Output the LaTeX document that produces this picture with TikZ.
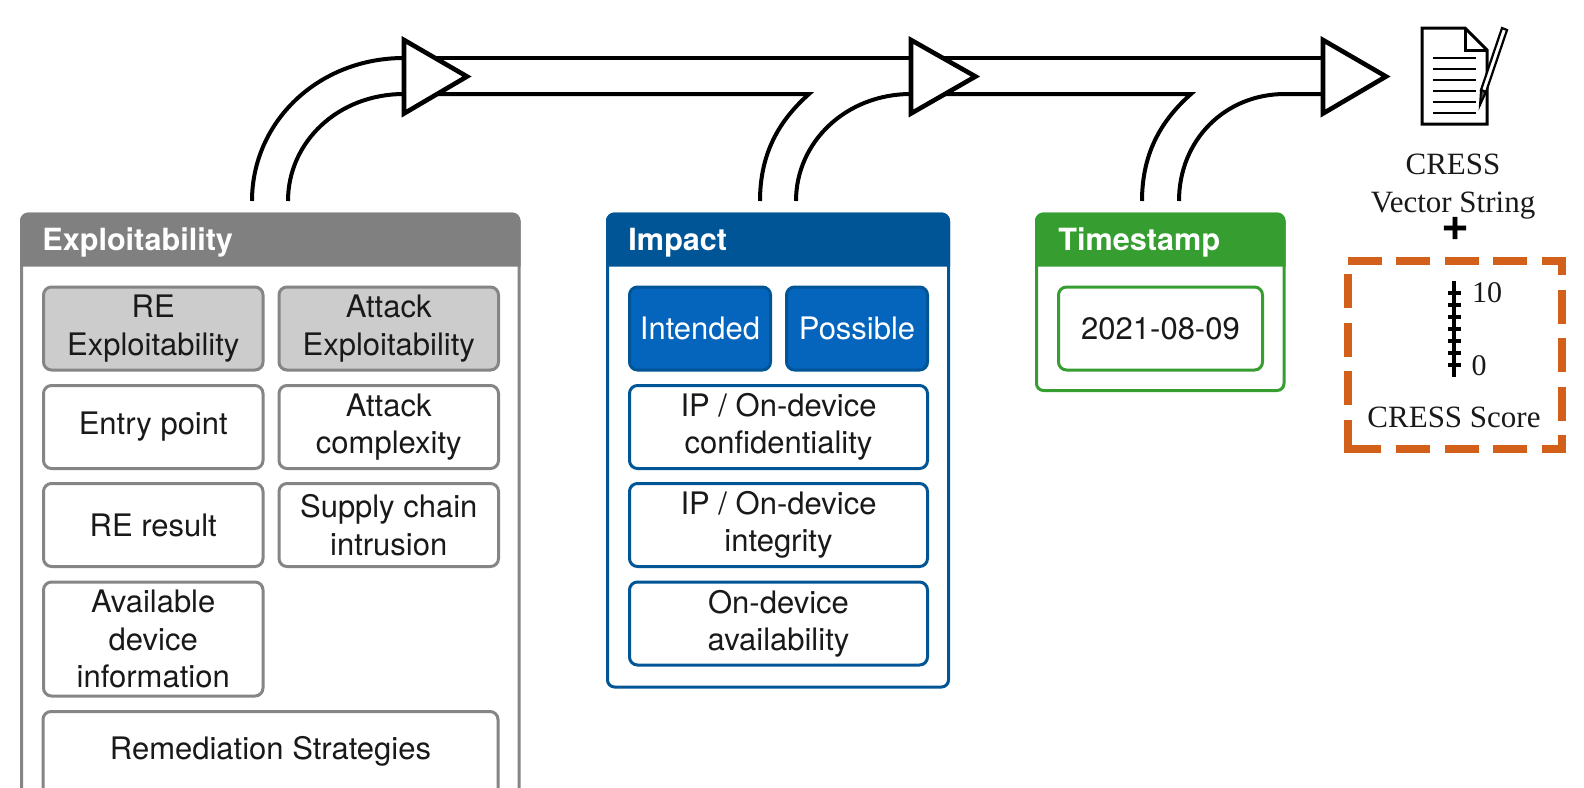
\documentclass[tikz,border=0pt]{standalone}
\usepackage{fontspec}
\setmainfont{Liberation Serif}
\setsansfont{TeX Gyre Heros}
\definecolor{greyhead}{HTML}{808080}
\definecolor{greyfill}{HTML}{CCCCCC}
\definecolor{greyline}{HTML}{858585}
\definecolor{bluehead}{HTML}{005596}
\definecolor{bluefill}{HTML}{0564BC}
\definecolor{greenhead}{HTML}{369E30}
\definecolor{orangeline}{HTML}{D2601A}
\tikzset{
  x=0.5pt,y=-0.5pt,
  panel/.style={draw=#1,line width=1.5pt,rounded corners=3.5pt,fill=white},
  head/.style={fill=#1,draw=#1,line width=1.5pt},
  headtext/.style={font=\sffamily\bfseries\fontsize{15.3}{18}\selectfont,text=white,anchor=base west,inner sep=0pt},
  cell/.style={draw=#1,line width=1.5pt,rounded corners=4pt,fill=white,font=\sffamily\fontsize{15.5}{18.7}\selectfont,align=center,text=black!90},
  pipe/.style={line width=2pt,black,line join=miter},
  tri/.style={line width=2.3pt,black,fill=white,line join=miter},
  serifl/.style={font=\rmfamily\fontsize{15.5}{19}\selectfont,text=black!90},
  orangedash/.style={orangeline,line width=4pt,dash pattern=on 17pt off 7.3pt,line join=miter},
}
\newcommand{\cellbox}[7][white]{%
  \node[cell=#2,fill=#1,minimum width=#5*0.5pt,minimum height=#6*0.5pt,inner sep=0pt,anchor=north west] (#3) at #4 {#7};}
\begin{document}
\begin{tikzpicture}
\useasboundingbox (0,0) rectangle (1584,787);
% block arrows
\coordinate (a1o) at (252,201); \coordinate (a1i) at (288,201);
\coordinate (t1) at (404,58); \coordinate (b1) at (404,94);
\coordinate (a2o) at (760,201); \coordinate (a2i) at (796,201);
\coordinate (t2) at (911,58); \coordinate (b2) at (911,94);
\coordinate (a3o) at (1142,201); \coordinate (a3i) at (1179,201);
\coordinate (t3) at (1323,58); \coordinate (b3) at (1323,94);
\draw[pipe] (a1o) .. controls (252,122) and (318,58) .. (t1);
\draw[pipe] (a1i) .. controls (288,142) and (338,94) .. (b1);
\draw[pipe] (t1) -- (t2);
\draw[pipe] (b1) -- (809,94) .. controls (782,118) and (760,150) .. (a2o);
\draw[pipe] (a2i) .. controls (796,142) and (846,94) .. (b2);
\draw[pipe] (t2) -- (t3);
\draw[pipe] (b2) -- (1191,94) .. controls (1164,118) and (1142,150) .. (a3o);
\draw[pipe] (a3i) .. controls (1179,140) and (1225,94) .. (1285,94) -- (b3);
\draw[tri] (404,40) -- (404,113.5) -- (467,76.5) -- cycle;
\draw[tri] (911,40) -- (911,113.5) -- (975.5,76.5) -- cycle;
\draw[tri] (1323,40) -- (1323,113.5) -- (1386,76.5) -- cycle;
% Exploitability
\draw[panel=greyline] (21.5,214) rectangle (519,820);
\draw[head=greyhead] (21.5,265) {[rounded corners=3.5pt] -- (21.5,214) -- (519,214)} -- (519,265) -- cycle;
\node[headtext] (exph) at (42,250) {Exploitability};
\cellbox[greyfill]{greyline}{re}{(42,285.5)}{219.5}{83}{RE\\Exploitability}
\cellbox[greyfill]{greyline}{att}{(277.5,285.5)}{219.5}{83}{Attack\\Exploitability}
\cellbox{greyline}{entry}{(42,384)}{219.5}{83}{Entry point}
\cellbox{greyline}{cplx}{(277.5,384)}{219.5}{83}{Attack\\complexity}
\cellbox{greyline}{rer}{(42,482)}{219.5}{83}{RE result}
\cellbox{greyline}{sup}{(277.5,482)}{219.5}{83}{Supply chain\\intrusion}
\cellbox{greyline}{avail}{(42,580.5)}{219.5}{114}{Available\\device\\information}
\draw[greyline,line width=1.5pt,rounded corners=4pt] (43,820) -- (43,711.5) -- (498,711.5) -- (498,820);
\node[cell=none,draw=none,fill=none] (rem) at (270.5,751) {Remediation Strategies};
% Impact
\draw[panel=bluehead] (607.5,214) rectangle (948.5,687);
\draw[head=bluehead] (607.5,265) {[rounded corners=3.5pt] -- (607.5,214) -- (948.5,214)} -- (948.5,265) -- cycle;
\node[headtext] (imph) at (628,250) {Impact};
\cellbox[bluefill]{bluehead}{int}{(628,285.5)}{141}{83}{\textcolor{white}{Intended}}
\cellbox[bluefill]{bluehead}{pos}{(785,285.5)}{141}{83}{\textcolor{white}{Possible}}
\cellbox{bluehead}{ipc}{(628,384)}{298}{83}{IP / On-device\\confidentiality}
\cellbox{bluehead}{ipi}{(628,482)}{298}{83}{IP / On-device\\integrity}
\cellbox{bluehead}{oda}{(628,580.5)}{298}{83}{On-device\\availability}
% Timestamp
\draw[panel=greenhead] (1036.5,214) rectangle (1284,390.5);
\draw[head=greenhead] (1036.5,265) {[rounded corners=3.5pt] -- (1036.5,214) -- (1284,214)} -- (1284,265) -- cycle;
\node[headtext] (tsh) at (1058,250) {Timestamp};
\cellbox{greenhead}{date}{(1057,285.5)}{204}{83}{2021-08-09}
% document icon
\draw[line width=1.5pt] (1422,28) -- (1465,28) -- (1487,50) -- (1487,124) -- (1422,124) -- cycle;
\draw[line width=1.5pt] (1465,28) -- (1465,50) -- (1487,50);
\foreach \y in {58,69,80,91,102,113} \draw[line width=1.4pt] (1433,\y) -- (1476,\y);
\draw[line width=1.1pt,fill=white] (1481,90) -- (1502,28) -- (1507,30) -- (1486,92) -- cycle;
\draw[line width=1pt,fill=black!70] (1481,90) -- (1486,92) -- (1480,105) -- cycle;
\node[serifl,align=center,inner sep=0pt] (vec) at (1453,187) {CRESS\\Vector String};
\node[font=\bfseries\sffamily\fontsize{24}{24}\selectfont,inner sep=0pt] (plus) at (1455,229) {+};
% score box
\draw[orangedash] (1347.5,261) -- (1562,261) -- (1562,449) -- (1347.5,449);
\draw[orangedash] (1347.5,274) -- (1347.5,453);
\draw[line width=1.8pt] (1454,281) -- (1454,377);
\foreach \y in {293,305,317,329,341,353,365} \draw[line width=1.6pt] (1448,\y) -- (1461,\y);
\node[serifl,font=\rmfamily\fontsize{15}{18}\selectfont] (ten) at (1487,293) {10};
\node[serifl,font=\rmfamily\fontsize{15}{18}\selectfont] (zero) at (1479,366) {0};
\node[serifl] (sc) at (1454,417) {CRESS Score};
\end{tikzpicture}
\end{document}
